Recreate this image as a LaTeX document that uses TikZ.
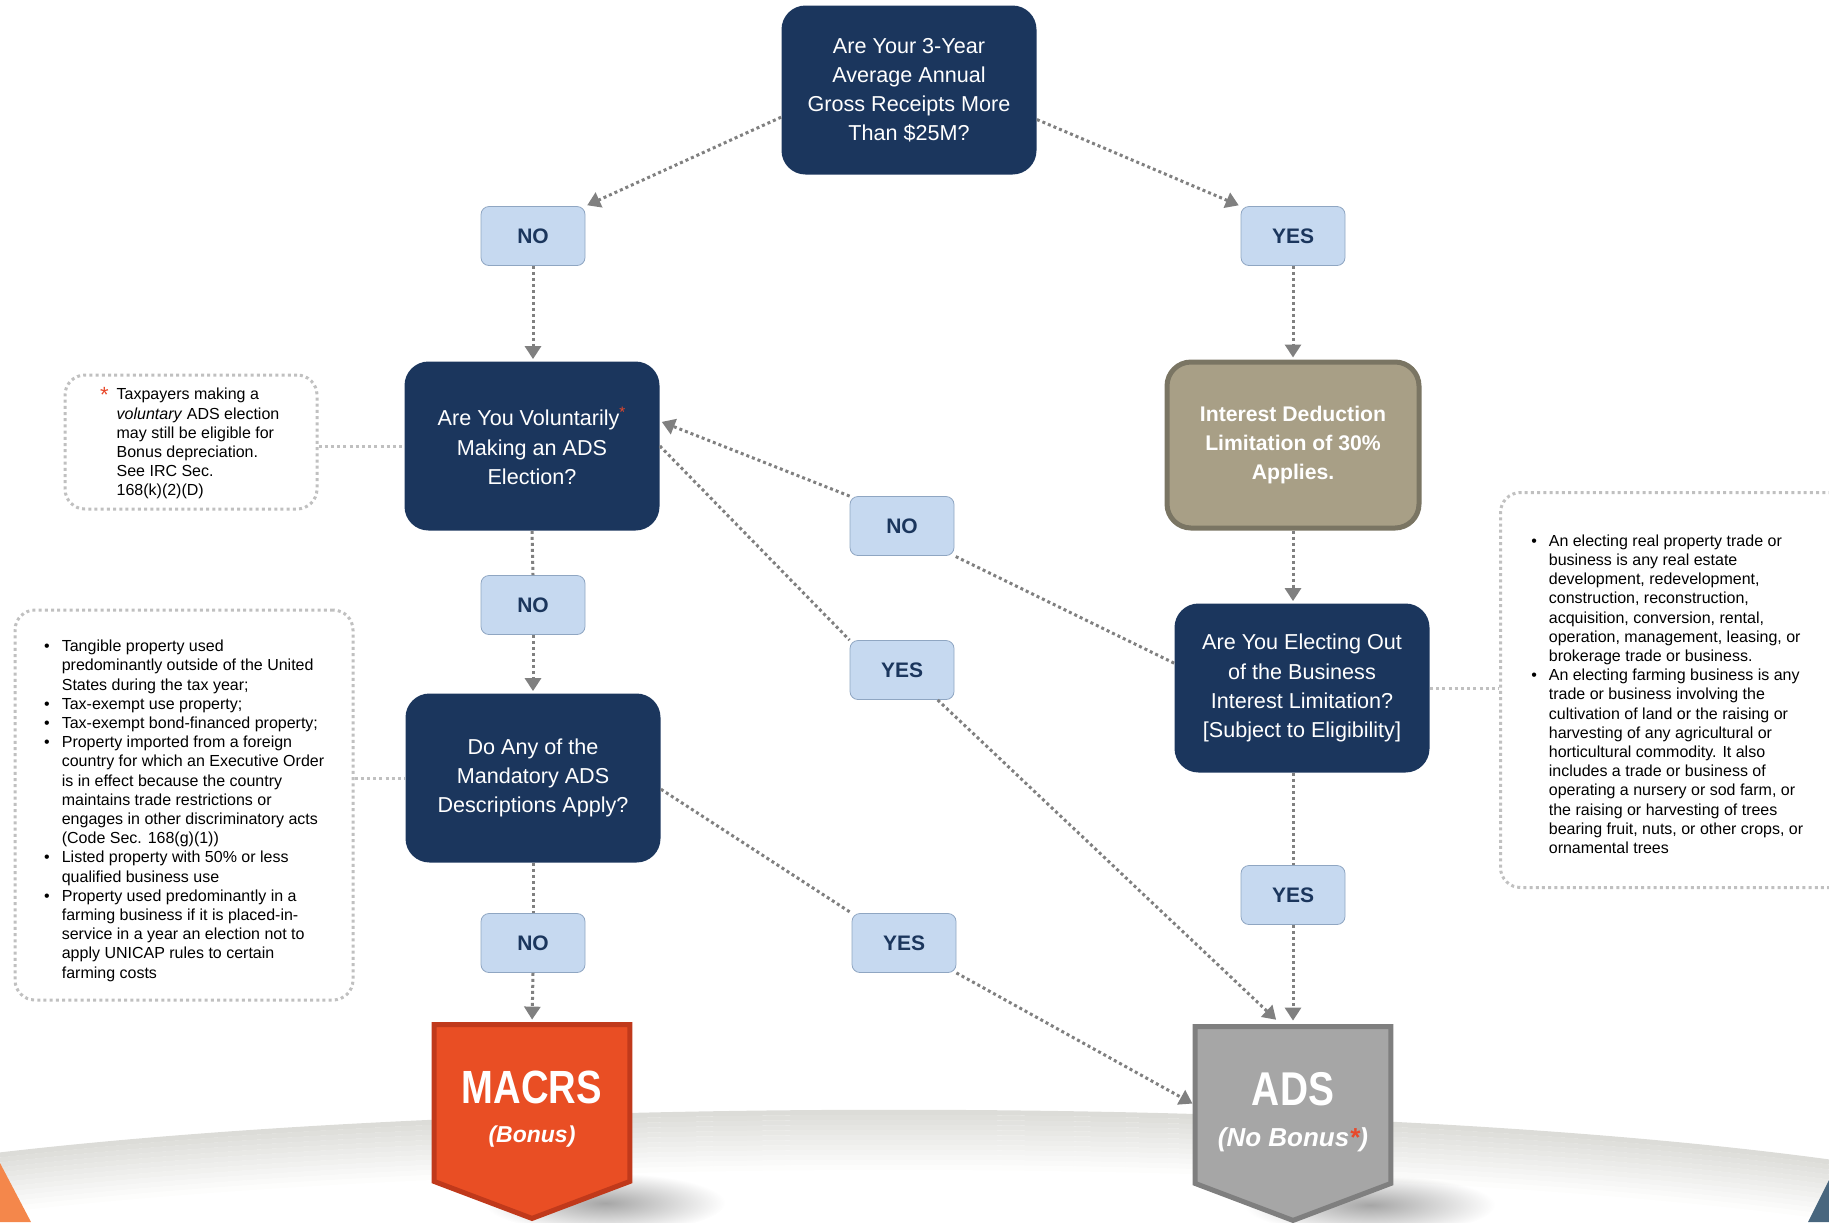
\documentclass[tikz,border=0pt]{standalone}
\usepackage{fontspec}
\setmainfont{Liberation Sans}
\newfontfamily\narrowsans[FakeStretch=0.82]{Liberation Sans}
\usetikzlibrary{arrows.meta,calc,backgrounds,fadings}
\definecolor{navy}{HTML}{1B365D}
\definecolor{khaki}{HTML}{A89F86}
\definecolor{khakiedge}{HTML}{7A7563}
\definecolor{answerfill}{HTML}{C6D9F0}
\definecolor{answeredge}{HTML}{8FA6C2}
\definecolor{macrsred}{HTML}{E94E24}
\definecolor{macrsedge}{HTML}{C0391B}
\definecolor{adsgray}{HTML}{A6A6A6}
\definecolor{adsedge}{HTML}{7F7F7F}
\definecolor{starred}{HTML}{E8482A}
\definecolor{linkgray}{HTML}{808080}
\definecolor{notegray}{HTML}{C0C0C0}
\definecolor{floorgray}{HTML}{DCDCD8}
\definecolor{cornerorange}{HTML}{F4874B}
\definecolor{cornerblue}{HTML}{48667E}
\tikzfading[name=softshadow, inner color=transparent!65, outer color=transparent!100]
\newcommand{\bl}{\llap{\textbullet\hspace{6pt}}}

\begin{document}
\begin{tikzpicture}[
  x=0.5pt, y=-0.5pt,
  question/.style={rectangle, rounded corners=12pt, fill=navy, text=white,
                   minimum width=127.5pt, minimum height=84.5pt, align=center,
                   font=\fontsize{10.8}{14.6}\selectfont},
  limit/.style={rectangle, rounded corners=12pt, fill=khaki, draw=khakiedge,
                line width=2.5pt, text=white, minimum width=126pt, minimum height=83pt,
                align=center, font=\fontsize{10.6}{14.7}\selectfont\bfseries},
  answer/.style={rectangle, rounded corners=4pt, draw=answeredge, fill=answerfill,
                 minimum width=52pt, minimum height=29.5pt, text=navy,
                 font=\fontsize{10.5}{12}\selectfont\bfseries},
  note/.style={rectangle, rounded corners=10pt, draw=notegray, line width=1.5pt,
               dash pattern=on 1.5pt off 1.6pt, align=left,
               font=\fontsize{8}{9.6}\selectfont},
  outcome/.style={rectangle, inner sep=0pt, minimum width=97.5pt, minimum height=78pt,
                  align=center, text=white},
  link/.style={draw=linkgray, line width=1.5pt, dash pattern=on 1.5pt off 1.5pt},
  flow/.style={link, -{Triangle[width=8pt,length=6.5pt]}, shorten >=1pt},
  notelink/.style={draw=notegray, line width=1.5pt, dash pattern=on 1.5pt off 1.6pt},
]
  \useasboundingbox (0,0) rectangle (1829,1222);

  \begin{scope}[on background layer]
    \foreach \k in {0,...,11}{
      \pgfmathsetmacro\p{100-\k*8.5}
      \draw[floorgray!\p!white, line width=2.6pt] (0,1155+\k*5)
        .. controls (500,1097+\k*5) and (1350,1097+\k*5) .. (1829,1162+\k*5);
    }
    \fill[cornerorange] (0,1163) -- (31,1222) -- (0,1222) -- cycle;
    \fill[cornerblue] (1829,1180) -- (1808,1222) -- (1829,1222) -- cycle;
  \end{scope}

  % questions
  \node[question] (top) at (909,90) {Are Your 3-Year\\Average Annual\\Gross Receipts More\\Than \$25M?};
  \node[question] (q2) at (532,446) {Are You Voluntarily\textcolor{starred}{\textsuperscript{*}}\\Making an ADS\\Election?};
  \node[question] (q3) at (1302,688) {Are You Electing Out\\of the Business\\Interest Limitation?\\{[}Subject to Eligibility{]}};
  \node[question] (q4) at (533,778) {Do Any of the\\Mandatory ADS\\Descriptions Apply?};
  \node[limit] (int) at (1293,445) {Interest Deduction\\Limitation of 30\%\\Applies.};

  % answers
  \node[answer] (no1) at (533,236) {NO};
  \node[answer] (yes1) at (1293,236) {YES};
  \node[answer] (no2) at (902,526) {NO};
  \node[answer] (no3) at (533,605) {NO};
  \node[answer] (yes2) at (902,670) {YES};
  \node[answer] (yes3) at (1293,895) {YES};
  \node[answer] (no4) at (533,943) {NO};
  \node[answer] (yes4) at (904,943) {YES};

  % outcomes
  \node[outcome, font=\fontsize{11.5}{19.5}\selectfont\bfseries\itshape] (macrs) at (532,1103)
    {{\narrowsans\upshape\fontsize{23.3}{24}\selectfont\rule{0pt}{22pt}MACRS}\\(Bonus)};
  \node[outcome, font=\fontsize{13}{20.5}\selectfont\bfseries\itshape] (ads) at (1293,1105)
    {{\narrowsans\upshape\fontsize{23.7}{24}\selectfont\rule{0pt}{24pt}ADS}\\(No Bonus\textcolor{starred}{*})};

  \begin{scope}[on background layer]
    \fill[black, path fading=softshadow] (605,1203) ellipse (120 and 30);
    \fill[black, path fading=softshadow] (1370,1205) ellipse (125 and 30);
    \foreach \o/\f/\e in {macrs/macrsred/macrsedge, ads/adsgray/adsedge}
      \filldraw[fill=\f, draw=\e, line width=2.5pt] (\o.north west) -- (\o.north east)
        -- (\o.south east) -- ($(\o.south)+(0,-18.5pt)$) -- (\o.south west) -- cycle;
  \end{scope}

  % side notes
  \node[note, minimum width=126pt, minimum height=67pt] (nt1) at (191,442)
    {\raisebox{-1pt}[\height][\depth]{\begin{tabular}{@{\hspace{7pt}}l@{}}
     \llap{\textcolor{starred}{\raisebox{-1.5pt}{\fontsize{11}{11}\selectfont *}}\hspace{4pt}}Taxpayers making a\\
     \textit{voluntary} ADS election\\may still be eligible for\\Bonus depreciation.\\
     See IRC Sec.\\168(k)(2)(D)\end{tabular}}};
  \node[note, minimum width=169pt, minimum height=195pt] (nt2) at (184,805)
    {\raisebox{-3pt}[\height][\depth]{\begin{tabular}{@{\hspace{9pt}}l@{}}
     \bl Tangible property used\\predominantly outside of the United\\States during the tax year;\\
     \bl Tax-exempt use property;\\
     \bl Tax-exempt bond-financed property;\\
     \bl Property imported from a foreign\\country for which an Executive Order\\
     is in effect because the country\\maintains trade restrictions or\\
     engages in other discriminatory acts\\(Code Sec. 168(g)(1))\\
     \bl Listed property with 50\% or less\\qualified business use\\
     \bl Property used predominantly in a\\farming business if it is placed-in-\\
     service in a year an election not to\\apply UNICAP rules to certain\\farming costs\end{tabular}}};
  \node[note, minimum width=175.5pt, minimum height=197.5pt] (nt3) at (1676,690)
    {\raisebox{-3pt}[\height][\depth]{\begin{tabular}{@{}l@{}}
     \bl An electing real property trade or\\business is any real estate\\
     development, redevelopment,\\construction, reconstruction,\\
     acquisition, conversion, rental,\\operation, management, leasing, or\\
     brokerage trade or business.\\
     \bl An electing farming business is any\\trade or business involving the\\
     cultivation of land or the raising or\\harvesting of any agricultural or\\
     horticultural commodity. It also\\includes a trade or business of\\
     operating a nursery or sod farm, or\\the raising or harvesting of trees\\
     bearing fruit, nuts, or other crops, or\\ornamental trees\end{tabular}}};

  \draw[notelink] (nt1.east |- q2.west) -- (q2.west);
  \draw[notelink] (q4.west -| nt2.east) -- (q4.west);
  \draw[notelink] (q3.east) -- (q3.east -| nt3.west);

  % connectors
  \draw[flow] (top.192) -- (no1.north east);
  \draw[flow] (top.-13) -- (yes1.north west);
  \draw[flow] (no1.south) -- (no1.south |- q2.north);
  \draw[flow] (yes1.south) -- (int.north);
  \draw[flow] (int.south) -- (int.south |- q3.north);
  \draw[link] (q3.169) -- (no2.south east);
  \draw[flow] (no2.north west) -- (q2.11);
  \draw[link] (q2.east) -- (yes2.north west);
  \draw[flow, shorten >=5pt] (yes2.-40) -- (ads.97);
  \draw[link] (q2.south) -- (no3.north);
  \draw[flow] (no3.south) -- (q4.north);
  \draw[link] (q4.south) -- (no4.north);
  \draw[flow, shorten >=2.5pt] (no4.south) -- (macrs.north);
  \draw[link] (q4.-5) -- (yes4.north west);
  \draw[flow, shorten >=1.5pt] (yes4.south east) -- (ads.west);
  \draw[link] (q3.south -| yes3.north) -- (yes3.north);
  \draw[flow, shorten >=3pt] (yes3.south) -- (ads.north);
\end{tikzpicture}
\end{document}
